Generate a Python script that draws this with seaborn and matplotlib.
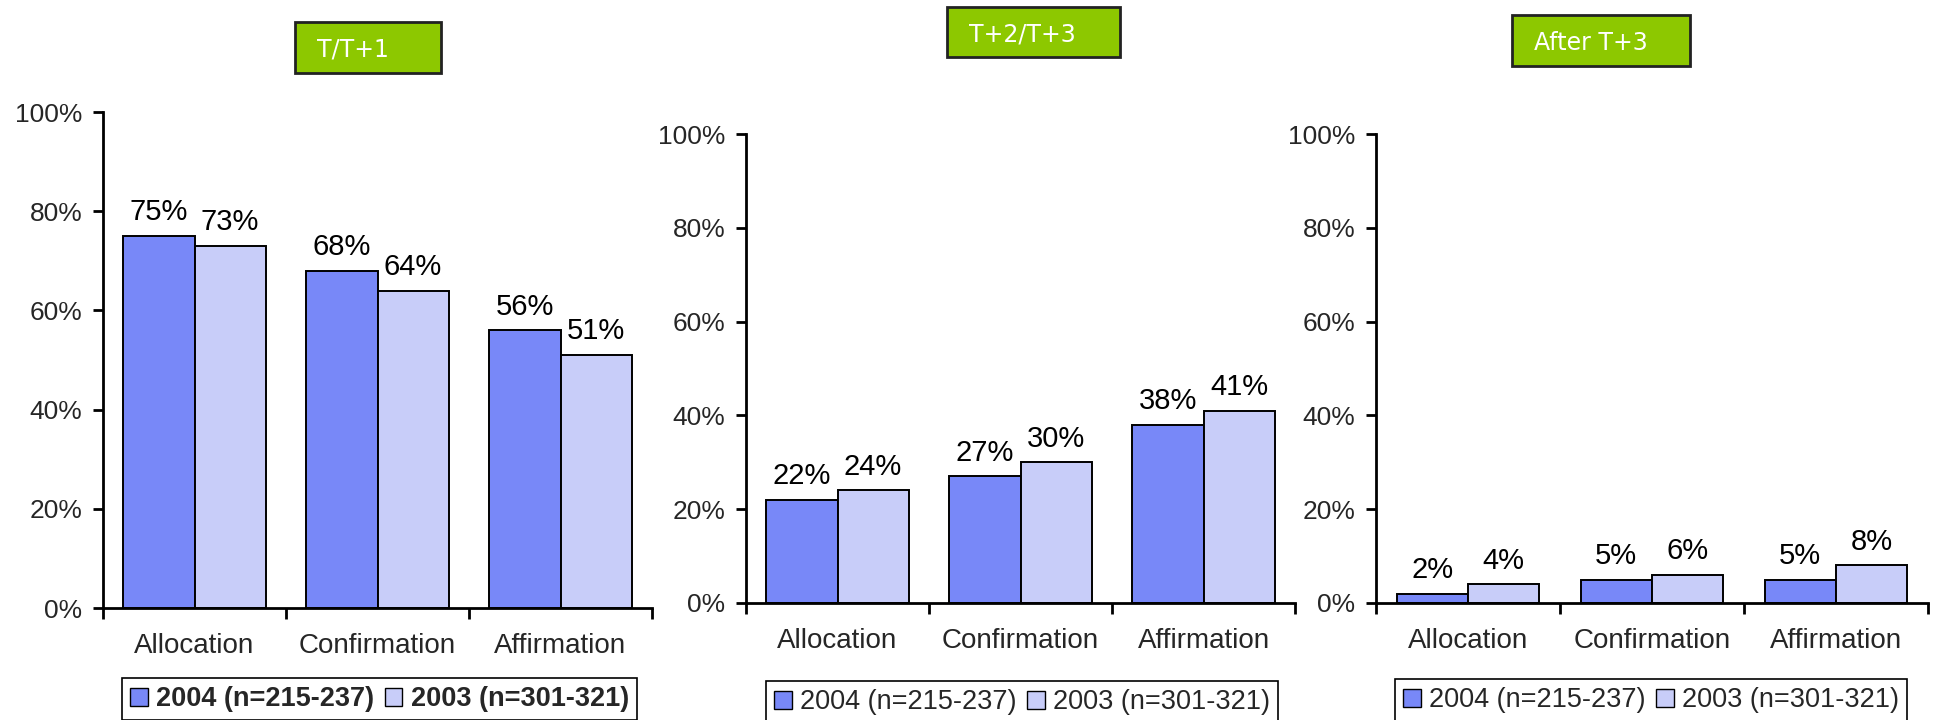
import matplotlib
matplotlib.use("Agg")
import matplotlib.pyplot as plt
from matplotlib.patches import Rectangle, Patch
from matplotlib.ticker import FixedLocator, PercentFormatter
import seaborn as sns
import pandas as pd

# ---- data ----
categories = ["Allocation", "Confirmation", "Affirmation"]
series_names = ["2004 (n=215-237)", "2003 (n=301-321)"]
panel_titles = ["T/T+1", "T+2/T+3", "After T+3"]
vals_t1_2004 = [75, 68, 56]
vals_t1_2003 = [73, 64, 51]
vals_t23_2004 = [22, 27, 38]
vals_t23_2003 = [24, 30, 41]
vals_after_2004 = [2, 5, 5]
vals_after_2003 = [4, 6, 8]
y_ticks = [0, 20, 40, 60, 80, 100]

panels = [
    (vals_t1_2004, vals_t1_2003),
    (vals_t23_2004, vals_t23_2003),
    (vals_after_2004, vals_after_2003),
]

colors = ["#7888F8", "#C8CDF9"]
green = "#8DC800"

sns.set_theme(style="white")
plt.rcParams["font.family"] = ["Liberation Sans", "DejaVu Sans"]

W, H = 1935, 720
fig = plt.figure(figsize=(W / 100, H / 100), dpi=100)


def fx(px):
    return px / W


def fy(py):
    return 1 - py / H


# axes rectangles in pixels: left, right, top, bottom
ax_px = [(103, 652, 112, 608), (746, 1295, 134, 603), (1376, 1928, 134, 603)]
title_px = [(295, 441, 22, 73), (947, 1120, 7, 57), (1512, 1690, 15, 66)]
legend_px = [(122, 678), (766, 681), (1395, 679)]

for i, ((v04, v03), (l, r, t, b)) in enumerate(zip(panels, ax_px)):
    ax = fig.add_axes([fx(l), fy(b), fx(r) - fx(l), fy(t) - fy(b)])
    df = pd.DataFrame({
        "category": categories * 2,
        "value": list(v04) + list(v03),
        "series": [series_names[0]] * 3 + [series_names[1]] * 3,
    })
    sns.barplot(data=df, x="category", y="value", hue="series",
                palette=colors, saturation=1, edgecolor="black", linewidth=1.4,
                width=0.776, gap=0, ax=ax, legend=False, errorbar=None)
    for cont in ax.containers:
        ax.bar_label(cont, labels=[f"{int(round(h.get_height()))}%" for h in cont],
                     padding=7, fontsize=21, color="black")
    ax.set_xlim(-0.5, 2.5)
    ax.set_ylim(0, 100)
    ax.set_yticks(y_ticks)
    ax.yaxis.set_major_formatter(PercentFormatter(decimals=0))
    ax.set_xlabel("")
    ax.set_ylabel("")
    for s in ["top", "right"]:
        ax.spines[s].set_visible(False)
    for s in ["left", "bottom"]:
        ax.spines[s].set_color("black")
        ax.spines[s].set_linewidth(2)
    ax.tick_params(axis="y", which="major", direction="out", length=7,
                   width=2, color="black", labelsize=19, pad=8, left=True)
    ax.tick_params(axis="x", which="major", length=0, labelsize=20, pad=18)
    ax.xaxis.set_minor_locator(FixedLocator([-0.5, 0.5, 1.5, 2.5]))
    ax.tick_params(axis="x", which="minor", direction="out", length=8,
                   width=2, color="black", bottom=True)
    ax.set_facecolor("white")

    # legend
    handles = [Patch(facecolor=c, edgecolor="black", linewidth=1) for c in colors]
    lx, ly = legend_px[i]
    leg = fig.legend(handles, series_names, ncol=2, loc="upper left",
                     bbox_to_anchor=(fx(lx), fy(ly)), bbox_transform=fig.transFigure,
                     frameon=True, fancybox=False, framealpha=1,
                     edgecolor="black", fontsize=19.5,
                     handlelength=0.65, handleheight=0.65, handletextpad=0.3,
                     columnspacing=0.4, borderpad=0.3, borderaxespad=0)
    leg.get_frame().set_linewidth(1.2)
    if i == 0:
        for txt in leg.get_texts():
            txt.set_fontweight("bold")

    # title box
    tl, tr, tt, tb = title_px[i]
    rect = Rectangle((fx(tl), fy(tb)), fx(tr) - fx(tl), fy(tt) - fy(tb),
                     transform=fig.transFigure, facecolor=green,
                     edgecolor="#222222", linewidth=2)
    fig.add_artist(rect)
    fig.text(fx(tl + 22), (fy(tt) + fy(tb)) / 2 - 0.003, panel_titles[i],
             ha="left", va="center", color="white", fontsize=17,
             family=["DejaVu Sans"])

fig.savefig("out.png", dpi=100, facecolor="white")
